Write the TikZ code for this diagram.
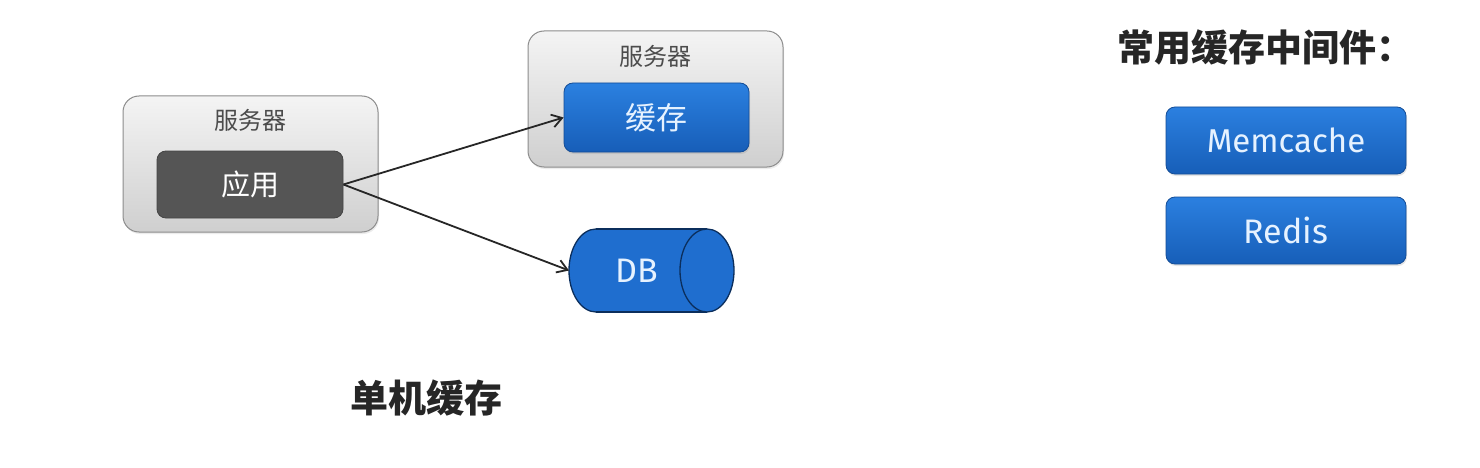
\documentclass[tikz,border=0pt]{standalone}
\usepackage{fontspec}
\setmainfont{Noto Sans CJK SC}
\newfontfamily\latinfont{Fira Sans}
\usetikzlibrary{arrows.meta,shadows}
\definecolor{boxtop}{HTML}{F4F4F4}
\definecolor{boxbot}{HTML}{CFCFCF}
\definecolor{boxline}{HTML}{8C8C8C}
\definecolor{appfill}{HTML}{555555}
\definecolor{bluetop}{HTML}{2B80E0}
\definecolor{bluebot}{HTML}{175EB8}
\definecolor{blueline}{HTML}{134C96}
\definecolor{dbfill}{HTML}{1F6ECF}
\definecolor{dbline}{HTML}{0B2E5C}
\definecolor{bluetext}{HTML}{E6F2FF}
\begin{document}
\begin{tikzpicture}[x=1pt,y=-1pt,
  server/.style={draw=boxline, line width=1pt, rounded corners=16pt, top color=boxtop, bottom color=boxbot,
     drop shadow={opacity=0.15, shadow xshift=1pt, shadow yshift=-2pt}},
  appbox/.style={draw=appfill!80!black, line width=0.8pt, rounded corners=9pt, fill=appfill, text=white,
     font=\fontsize{29}{32}\selectfont, inner sep=0pt},
  bluebox/.style={draw=blueline, line width=0.8pt, rounded corners=9pt, top color=bluetop, bottom color=bluebot,
     text=bluetext, inner sep=0pt, drop shadow={opacity=0.2, shadow xshift=1pt, shadow yshift=-2pt}},
  lbl/.style={text=black!70, font=\fontsize{24}{27}\selectfont, inner sep=0pt},
  conn/.style={draw=black!85, line width=1.8pt, -{Straight Barb[length=10pt,width=13pt,line width=1.8pt]}},
  title/.style={font=\fontsize{37}{40}\selectfont\bfseries, text=black!85, inner sep=0pt},
  dbshape/.style={fill=dbfill, draw=dbline, line width=1.3pt}
]
\useasboundingbox (0,0) rectangle (1480,468);
\fill[white] (0,0) rectangle (1480,468);

% left server
\path[server] (123,96) rectangle (378,232);
\node[lbl] (srv1) at (250,120) {服务器};
\node[appbox, minimum width=186pt, minimum height=67pt] (app) at (250,184.5) {应用};

% right server
\path[server] (528,31) rectangle (783,167);
\node[lbl] (srv2) at (655,56) {服务器};
\node[bluebox, minimum width=185pt, minimum height=69pt, font=\fontsize{31}{34}\selectfont] (cache) at (656.5,117.5) {缓存};

% DB cylinder
\fill[dbfill] (596,229) rectangle (707,312);
\begin{scope}
  \clip (550,215) rectangle (596,325);
  \path[dbshape] (596,270.5) ellipse [x radius=27, y radius=41.5];
\end{scope}
\draw[dbline, line width=1.3pt] (596,229) -- (707,229) (596,312) -- (707,312);
\path[dbshape] (707,270.5) ellipse [x radius=27, y radius=41.5];
\coordinate (db) at (569,270.5);
\node[text=bluetext, font=\latinfont\fontsize{34}{36}\selectfont, inner sep=0pt] (dbt) at (637,271) {DB};

% arrows
\draw[conn] (app.east) -- (cache.west);
\draw[conn] (app.east) -- (db);

% right side
\node[title, anchor=west] (mid) at (1117,47) {常用缓存中间件：};
\node[bluebox, minimum width=240pt, minimum height=67pt, font=\latinfont\fontsize{33}{36}\selectfont] (mem) at (1286,140.5) {Memcache};
\node[bluebox, minimum width=240pt, minimum height=67pt, font=\latinfont\fontsize{34}{36}\selectfont] (redis) at (1286,230.5) {Redis};

% caption
\node[title, font=\fontsize{38}{41}\selectfont\bfseries] (cap) at (426,398) {单机缓存};
\end{tikzpicture}
\end{document}
